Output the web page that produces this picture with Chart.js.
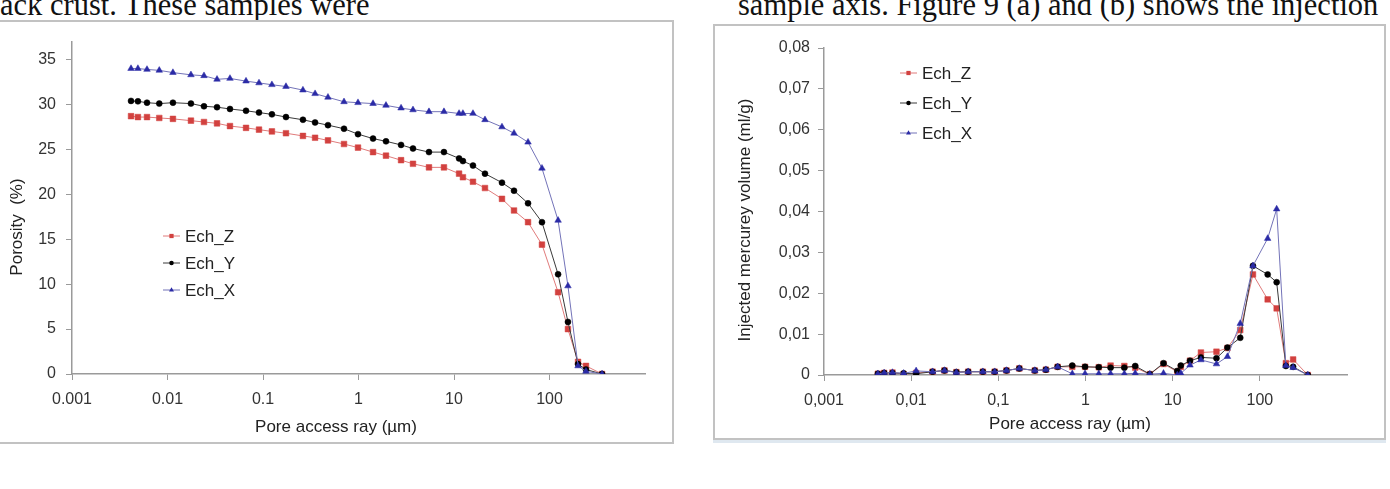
<!DOCTYPE html>
<html lang="en">
<head>
  <meta charset="UTF-8" />
  <title>Porosity and injected mercury volume</title>
  <script src="https://cdn.jsdelivr.net/npm/chart.js"></script>
  <style>
    html, body {
      margin: 0; padding: 0;
      width: 1390px; height: 489px;
      overflow: hidden; position: relative;
      background: #fff;
    }
    .para {
      position: absolute; top: -10px;
      font-family: 'Liberation Serif', 'Times New Roman', serif;
      font-size: 30.5px; line-height: 30px;
      color: #111; white-space: nowrap;
    }
    .frame {
      position: absolute;
      border: 2px solid #c2c2c2;
      background: #fff;
    }
    .frame canvas { display: block; }
  </style>
</head>
<body>
  <div class="para" style="left:0">ack crust. These samples were</div>
  <div class="para" style="left:738px">sample axis. Figure 9 (a) and (b) shows the injection</div>

  <div class="frame" style="left:-2px; top:20px;">
    <canvas id="porosityChart" width="672" height="420"></canvas>
  </div>
  <div class="frame" style="left:713px; top:24px; box-shadow: 0 3px 0 #dfe8f0;">
    <canvas id="volumeChart" width="669" height="412"></canvas>
  </div>

  <script>
    // pore access ray (µm), same steps for both plots
    const poreRay = [0.00415, 0.0049, 0.0061, 0.0082, 0.0114, 0.0176, 0.0241, 0.033, 0.0451, 0.0664,
      0.0908, 0.124, 0.174, 0.262, 0.351, 0.479, 0.705, 0.988, 1.42, 1.94,
      2.79, 3.72, 5.47, 7.85, 11.3, 12.4, 15.8, 21.1, 31.8, 42.5,
      59.6, 83.4, 123, 156, 199, 241, 355];

    // porosity (%)
    const porosityZ = [28.7, 28.6, 28.6, 28.5, 28.4, 28.2, 28.05, 27.9, 27.6, 27.4,
      27.2, 27.0, 26.8, 26.5, 26.3, 26.0, 25.6, 25.2, 24.7, 24.3,
      23.8, 23.4, 23.0, 23.0, 22.3, 21.9, 21.4, 20.7, 19.5, 18.2,
      16.9, 14.4, 9.1, 5.0, 1.35, 0.9, 0];
    const porosityY = [30.4, 30.35, 30.2, 30.1, 30.2, 30.1, 29.8, 29.7, 29.5, 29.3,
      29.1, 28.9, 28.6, 28.3, 28.0, 27.7, 27.3, 26.7, 26.2, 25.9,
      25.5, 25.1, 24.7, 24.7, 24.0, 23.7, 23.2, 22.3, 21.3, 20.4,
      19.0, 16.9, 11.1, 5.8, 1.1, 0.5, 0];
    const porosityX = [34.0, 34.0, 33.9, 33.8, 33.55, 33.3, 33.2, 32.8, 32.9, 32.6,
      32.4, 32.2, 32.0, 31.6, 31.2, 30.8, 30.3, 30.2, 30.1, 29.9,
      29.6, 29.4, 29.2, 29.2, 29.0, 29.0, 29.0, 28.3, 27.5, 26.8,
      25.8, 22.9, 17.1, 9.8, 0.9, 0.3, 0];

    // injected mercury volume (ml/g)
    const volumeZ = [0.0003, 0.0005, 0.0006, 0.0002, 0.0005, 0.0008, 0.0011, 0.0007, 0.0008, 0.0008,
      0.0008, 0.0011, 0.0016, 0.0011, 0.0013, 0.0020, 0.0020, 0.0020, 0.0019, 0.0023,
      0.0022, 0.0018, 0.0002, 0.0027, 0.0008, 0.0020, 0.0035, 0.0055, 0.0057, 0.0066,
      0.0110, 0.0246, 0.0185, 0.0163, 0.0029, 0.0038, 0];
    const volumeY = [0.0003, 0.0005, 0.0005, 0.0004, 0.0003, 0.0008, 0.0011, 0.0007, 0.0008, 0.0008,
      0.0008, 0.0011, 0.0016, 0.0011, 0.0013, 0.0020, 0.0023, 0.0020, 0.0019, 0.0018,
      0.0018, 0.0022, 0.0002, 0.0029, 0.0010, 0.0023, 0.0035, 0.0043, 0.0041, 0.0067,
      0.0091, 0.0267, 0.0246, 0.0227, 0.0022, 0.0020, 0];
    const volumeX = [0.0003, 0.0005, 0.0006, 0.0004, 0.0010, 0.0008, 0.0011, 0.0006, 0.0008, 0.0008,
      0.0008, 0.0011, 0.0016, 0.0011, 0.0013, 0.0020, 0.0003, 0.0003, 0.0003, 0.0003,
      0.0003, 0.0004, 0.0002, 0.0004, 0.0000, 0.0004, 0.0024, 0.0037, 0.0027, 0.0045,
      0.0126, 0.0267, 0.0334, 0.0406, 0.0023, 0.0018, 0];

    const seriesNames = ['Ech_Z', 'Ech_Y', 'Ech_X'];
    const rayTicks = [0.001, 0.01, 0.1, 1, 10, 100];
    const rayLabelsDot = ['0.001', '0.01', '0.1', '1', '10', '100'];
    const rayLabelsComma = ['0,001', '0,01', '0,1', '1', '10', '100'];

    const seriesStyle = [
      { marker: '#d2413f', line: '#e07b7b', shape: 'rect', r: 4, order: 2 },
      { marker: '#000000', line: '#3a3a3a', shape: 'circle', r: 3, order: 1 },
      { marker: '#2b2ba6', line: '#7373b8', shape: 'triangle', r: 3.8, order: 0 }
    ];

    const axisColor = '#9a9a9a';
    const sansFont = "'Liberation Sans', Arial, sans-serif";

    function drawMarker(ctx, shape, x, y, r, color) {
      ctx.fillStyle = color;
      ctx.beginPath();
      if (shape === 'rect') {
        const s = r * Math.SQRT1_2;
        ctx.rect(x - s, y - s, 2 * s, 2 * s);
      } else if (shape === 'triangle') {
        ctx.moveTo(x, y - r);
        ctx.lineTo(x + r * 0.87, y + r * 0.5);
        ctx.lineTo(x - r * 0.87, y + r * 0.5);
        ctx.closePath();
      } else {
        ctx.arc(x, y, r, 0, Math.PI * 2);
      }
      ctx.fill();
    }

    const insideLegend = {
      id: 'insideLegend',
      afterDraw(chart, args, opts) {
        const ctx = chart.ctx;
        ctx.save();
        ctx.font = `17px ${sansFont}`;
        ctx.textBaseline = 'middle';
        ctx.textAlign = 'left';
        chart.data.datasets.forEach((ds, i) => {
          const st = seriesStyle[i];
          const y = opts.y + i * opts.gap;
          ctx.strokeStyle = st.line;
          ctx.lineWidth = 1;
          ctx.beginPath();
          ctx.moveTo(opts.x, y);
          ctx.lineTo(opts.x + 17, y);
          ctx.stroke();
          drawMarker(ctx, st.shape, opts.x + 8.5, y, st.r * 0.75, st.marker);
          ctx.fillStyle = '#222';
          ctx.fillText(ds.label, opts.x + 22, y + 1);
        });
        ctx.restore();
      }
    };

    const axisTitles = {
      id: 'axisTitles',
      afterDraw(chart, args, opts) {
        const ctx = chart.ctx;
        ctx.save();
        ctx.font = `17px ${sansFont}`;
        ctx.fillStyle = '#222';
        ctx.textAlign = 'center';
        ctx.textBaseline = 'middle';
        ctx.fillText(opts.xText, opts.xPos[0], opts.xPos[1]);
        ctx.translate(opts.yPos[0], opts.yPos[1]);
        ctx.rotate(-Math.PI / 2);
        ctx.fillText(opts.yText, 0, 0);
        ctx.restore();
      }
    };

    function makeDatasets(seriesValues) {
      return seriesValues.map((vals, i) => {
        const st = seriesStyle[i];
        return {
          label: seriesNames[i],
          data: poreRay.map((x, k) => ({ x: x, y: vals[k] })),
          borderColor: st.line,
          borderWidth: 1,
          pointStyle: st.shape,
          pointRadius: st.r,
          pointBackgroundColor: st.marker,
          pointBorderColor: st.marker,
          pointBorderWidth: 0.5,
          tension: 0,
          order: st.order
        };
      });
    }

    function makeScales(cfg) {
      return {
        x: {
          type: 'logarithmic',
          min: 0.001,
          max: 1000,
          afterBuildTicks: s => { s.ticks = rayTicks.map(v => ({ value: v })); },
          afterFit: s => { s.height = cfg.xHeight; },
          ticks: {
            callback: (v, i) => cfg.xLabels[i],
            autoSkip: false, maxRotation: 0, padding: 10,
            color: '#333', font: { size: 16, family: sansFont }
          },
          grid: { drawOnChartArea: false, drawTicks: true, tickLength: 6, color: axisColor },
          border: { color: axisColor, width: 1.5 }
        },
        y: {
          min: 0,
          max: cfg.yMax,
          afterFit: s => { s.width = cfg.yWidth; },
          ticks: {
            stepSize: cfg.yStep,
            includeBounds: false,
            callback: cfg.yFormat,
            padding: cfg.yPad,
            color: '#333', font: { size: 16, family: sansFont }
          },
          grid: { drawOnChartArea: false, drawTicks: true, tickLength: 6, color: axisColor },
          border: { color: axisColor, width: 1.5 }
        }
      };
    }

    new Chart(document.getElementById('porosityChart'), {
      type: 'line',
      data: { datasets: makeDatasets([porosityZ, porosityY, porosityX]) },
      options: {
        responsive: false,
        animation: false,
        layout: { padding: { left: 0, right: 27, top: 15, bottom: 0 } },
        scales: makeScales({
          xHeight: 68, yWidth: 72, yMax: 37, yStep: 5, yPad: 10,
          xLabels: rayLabelsDot,
          yFormat: v => String(v)
        }),
        plugins: {
          legend: { display: false },
          tooltip: { enabled: false },
          insideLegend: { x: 163, y: 214, gap: 27 },
          axisTitles: {
            xText: 'Pore access ray (µm)', xPos: [336, 405],
            yText: 'Porosity  (%)', yPos: [17, 205]
          }
        }
      },
      plugins: [insideLegend, axisTitles]
    });

    new Chart(document.getElementById('volumeChart'), {
      type: 'line',
      data: { datasets: makeDatasets([volumeZ, volumeY, volumeX]) },
      options: {
        responsive: false,
        animation: false,
        layout: { padding: { left: 0, right: 37, top: 22, bottom: 0 } },
        scales: makeScales({
          xHeight: 63, yWidth: 109, yMax: 0.08, yStep: 0.01, yPad: 8,
          xLabels: rayLabelsComma,
          yFormat: v => (v === 0 ? '0' : v.toFixed(2).replace('.', ','))
        }),
        plugins: {
          legend: { display: false },
          tooltip: { enabled: false },
          insideLegend: { x: 185, y: 47, gap: 30 },
          axisTitles: {
            xText: 'Pore access ray (µm)', xPos: [355, 398],
            yText: 'Injected mercurey volume (ml/g)', yPos: [30, 194]
          }
        }
      },
      plugins: [insideLegend, axisTitles]
    });
  </script>
</body>
</html>
